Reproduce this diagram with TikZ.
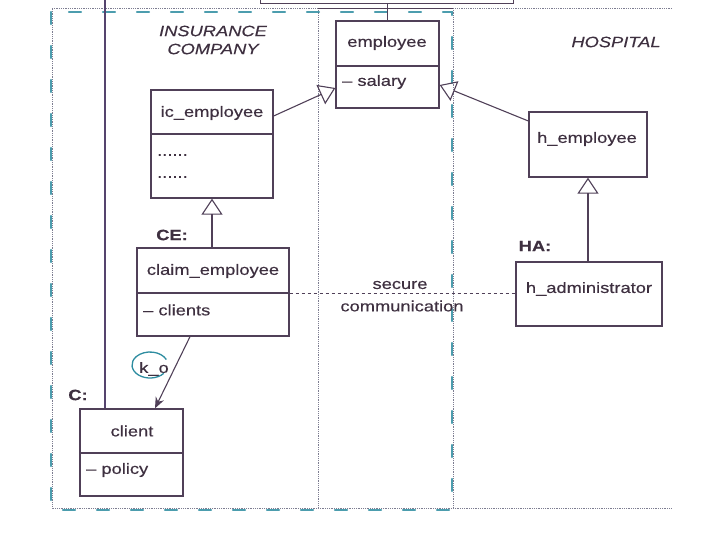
\documentclass[tikz,border=0pt]{standalone}
\usepackage{fontspec}
\setmainfont{Liberation Sans}[FakeStretch = 1.22, FakeBold = 0.35]
\usetikzlibrary{positioning, arrows.meta}
\definecolor{ink}{RGB}{62,48,64}
\definecolor{edge}{RGB}{80,64,88}
\definecolor{rule}{RGB}{125,125,145}
\definecolor{pen}{RGB}{45,140,160}
\definecolor{life}{RGB}{85,68,110}

\begin{document}
\begin{tikzpicture}[x = 1pt, y = -1pt,
    every node/.style = { text = ink, inner sep = 0pt, font = \fontsize{15}{18}\selectfont },
    box/.style = { draw = edge, line width = 1.3pt, shape = rectangle },
    role/.style = { font = \fontsize{15}{18}\selectfont\bfseries },
    area/.style = { font = \fontsize{15}{18}\selectfont\itshape },
    isa/.style = { draw = edge, line width = 1.1pt, -{Triangle[open, length = 16pt, width = 21pt]} },
    link/.style = { draw = edge, line width = 1.1pt, -{Stealth[length = 11pt, width = 9pt]} },
    frame/.style = { draw = rule, densely dotted, line width = .8pt },
    hand/.style = { draw = pen, line width = 2.2pt, line cap = round, dash pattern = on 12pt off 22pt, opacity = .85 }]

    \useasboundingbox (0,0) rectangle (720,540);

    \draw[frame] (672,8) -- (52,8) -- (52,508) -- (672,508);
    \draw[frame] (318,8) -- (318,508);
    \draw[frame] (453,8) -- (453,508);
    \draw[edge, line width = 1pt] (318,9) -- (453,9);
    \draw[hand] (51,12) rectangle (452,510);

    \node[box, line width = .8pt, minimum width = 253, minimum height = 20] (system) at (386.5,-7) {};

    \node[box, minimum width = 103, minimum height = 87] (employee) at (387.5,64.5) {};
    \node[box, minimum width = 122, minimum height = 108] (ic) at (212,144) {};
    \node[box, minimum width = 152, minimum height = 88] (ce) at (213,292) {};
    \node[box, minimum width = 103, minimum height = 87] (client) at (131.5,452.5) {};
    \node[box, minimum width = 118, minimum height = 65] (hemp) at (588,144.5) {};
    \node[box, minimum width = 146, minimum height = 64] (hadm) at (589,294) {};

    \draw[box] (employee.west |- 0,66) -- (employee.east |- 0,66);
    \draw[box] (ic.west |- 0,134) -- (ic.east |- 0,134);
    \draw[box] (ce.west |- 0,293) -- (ce.east |- 0,293);
    \draw[box] (client.west |- 0,453) -- (client.east |- 0,453);

    \node (employee-name) at (387,43) {employee};
    \node[anchor = west] (employee-attr) at (342,82) {– salary};
    \node (ic-name) at (212,113) {ic\_employee};
    \node[anchor = west] (ic-dots1) at (157,155) {......};
    \node[anchor = west] (ic-dots2) at (157,177) {......};
    \node (ce-name) at (213,271) {claim\_employee};
    \node[anchor = west] (ce-attr) at (143,310) {– clients};
    \node (client-name) at (132,431) {client};
    \node[anchor = west] (client-attr) at (86,470) {– policy};
    \node (hemp-name) at (587,139) {h\_employee};
    \node (hadm-name) at (589,289) {h\_administrator};

    \node[area] (insurance) at (213,31) {INSURANCE};
    \node[area, below = 7pt of insurance] (company) {COMPANY};
    \node[area] (hospital) at (616,42) {HOSPITAL};
    \node[role] (ce-role) at (172,235) {CE:};
    \node[role] (ha-role) at (535,246) {HA:};
    \node[role] (c-role) at (78,395) {C:};
    \node (ko) at (154,369) {k\_o};
    \node (secure) at (400,285) {secure};
    \node (comm) at (402,306) {communication};

    \draw[isa] (ic.east |- 0,116) -- (employee.west |- 0,88);
    \draw[isa] (hemp.west |- 0,121) -- (employee.east |- 0,85);
    \draw[isa] (ce.north -| ic.south) -- (ic.south);
    \draw[isa] (hadm.north -| hemp.south) -- (hemp.south);
    \draw[link] (ce.south -| 190,0) -- (client.north -| 155,0);
    \draw[edge, dashed, line width = 1pt] (ce.east |- 0,293) -- (hadm.west |- 0,293);

    \draw[edge, line width = 1pt] (employee.north) -- (employee.north |- system.south);
    \coordinate (top) at (105,0);
    \draw[life, line width = 2pt] (client.north -| top) -- (top);

    \draw[pen, line width = 1.3pt] (150,365) ++(40:18 and 13) arc[start angle = 40, end angle = 335, x radius = 18, y radius = 13];

\end{tikzpicture}
\end{document}
